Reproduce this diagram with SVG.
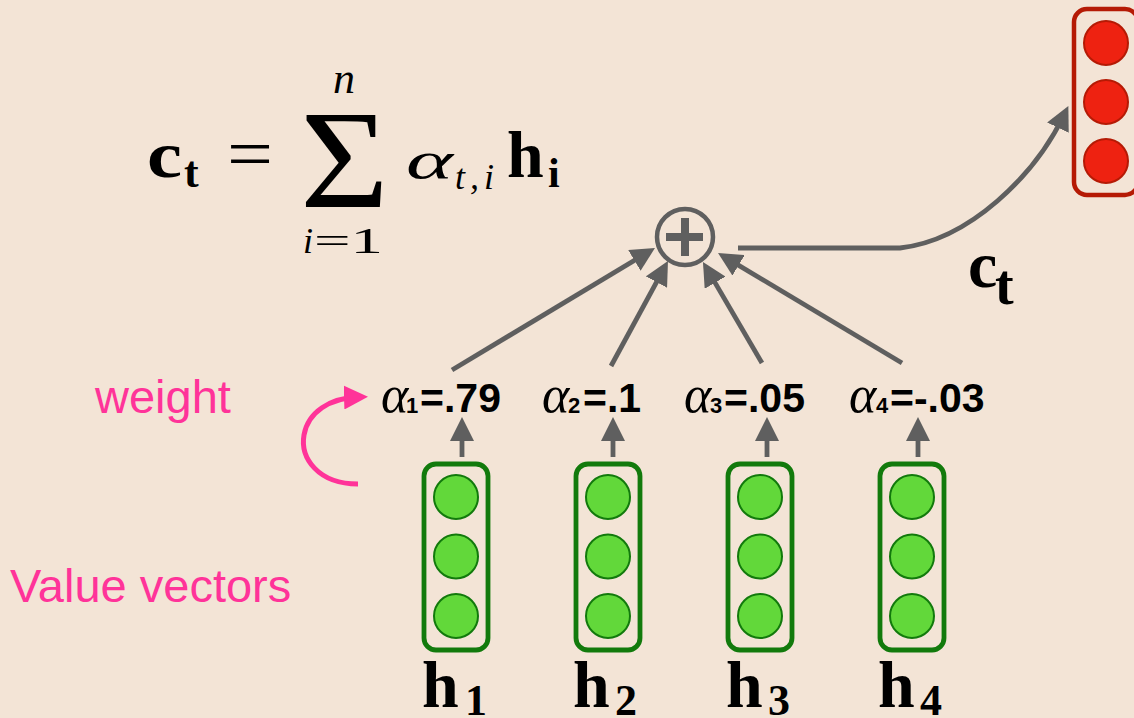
<svg xmlns="http://www.w3.org/2000/svg" width="1134" height="718" viewBox="0 0 1134 718">
<style>
.conn{fill:none;stroke:#5f5f5f;stroke-width:4.8;marker-end:url(#ah)}
.gbox{fill:none;stroke:#127a0c;stroke-width:4.8}
.gdot{fill:#62d83a;stroke:#127a0c;stroke-width:2}
.rbox{fill:none;stroke:#b51a05;stroke-width:4.5}
.rdot{fill:#ee2211;stroke:#b51a05;stroke-width:2}
.bs{font-family:"Liberation Serif","Times New Roman",serif;font-weight:bold;fill:#000}
.it{font-family:"Liberation Serif","Times New Roman",serif;font-style:italic;fill:#000}
.rm{font-family:"Liberation Serif","Times New Roman",serif;fill:#000}
.sb{font-family:"Liberation Sans",Arial,sans-serif;font-weight:bold;fill:#000}
.pink{font-family:"Liberation Sans",Arial,sans-serif;font-size:47px;fill:#ff3399}
</style>
<defs>
<marker id="ah" markerUnits="userSpaceOnUse" markerWidth="24" markerHeight="24" refX="14" refY="12" orient="auto">
<path d="M0,0 L24,12 L0,24 z" fill="#5f5f5f"/>
</marker>
<marker id="ahp" markerUnits="userSpaceOnUse" markerWidth="24" markerHeight="24" refX="14" refY="12" orient="auto">
<path d="M0,0 L24,12 L0,24 z" fill="#ff3399"/>
</marker>
</defs>
<rect x="0" y="0" width="1134" height="718" fill="#f3e4d6"/>

<g id="equation">
<text class="bs" x="147" y="177" font-size="66" textLength="35" lengthAdjust="spacingAndGlyphs">c</text>
<text class="bs" x="184" y="187" font-size="44">t</text>
<text class="rm" x="227" y="178" font-size="72" textLength="46" lengthAdjust="spacingAndGlyphs">=</text>
<text class="rm" x="300" y="207" font-size="140" textLength="89" lengthAdjust="spacingAndGlyphs">Σ</text>
<text class="it" x="333" y="93" font-size="44">n</text>
<text class="it" x="303" y="253" font-size="36">i</text>
<text class="rm" x="314" y="253" font-size="36" textLength="69" lengthAdjust="spacingAndGlyphs">=1</text>
<text class="it" x="406" y="178" font-size="52" textLength="47" lengthAdjust="spacingAndGlyphs">α</text>
<text class="it" x="455" y="189" font-size="36" letter-spacing="5">t,i</text>
<text class="bs" x="507" y="177" font-size="66">h</text>
<text class="bs" x="548" y="187" font-size="42">i</text>
</g>

<g id="sum">
<circle cx="685" cy="237" r="28" fill="#f3e4d6" stroke="#5f5f5f" stroke-width="4.5"/>
<rect x="666" y="233" width="37" height="8" fill="#5f5f5f"/>
<rect x="681" y="218" width="8" height="38" fill="#5f5f5f"/>
</g>

<g id="ct-vector">
<rect class="rbox" x="1074" y="9" width="64" height="186" rx="13"/>
<circle class="rdot" cx="1106" cy="43" r="22"/>
<circle class="rdot" cx="1106" cy="102" r="22"/>
<circle class="rdot" cx="1106" cy="161" r="22"/>
</g>
<g id="ct-label">
<text class="bs" x="968" y="287" font-size="66">c</text>
<text class="bs" x="995" y="304" font-size="56">t</text>
</g>

<g id="h1">
<rect class="gbox" x="424" y="464" width="64" height="186" rx="12"/>
<circle class="gdot" cx="456" cy="497" r="22"/>
<circle class="gdot" cx="456" cy="556.5" r="22"/>
<circle class="gdot" cx="456" cy="616" r="22"/>
<text class="bs" x="422" y="707" font-size="66">h</text>
<text class="bs" x="465" y="715" font-size="44">1</text>
</g>
<g id="h2">
<rect class="gbox" x="576" y="464" width="64" height="186" rx="12"/>
<circle class="gdot" cx="608" cy="497" r="22"/>
<circle class="gdot" cx="608" cy="556.5" r="22"/>
<circle class="gdot" cx="608" cy="616" r="22"/>
<text class="bs" x="573" y="707" font-size="66">h</text>
<text class="bs" x="615" y="715" font-size="44">2</text>
</g>
<g id="h3">
<rect class="gbox" x="728" y="464" width="64" height="186" rx="12"/>
<circle class="gdot" cx="760" cy="497" r="22"/>
<circle class="gdot" cx="760" cy="556.5" r="22"/>
<circle class="gdot" cx="760" cy="616" r="22"/>
<text class="bs" x="726" y="707" font-size="66">h</text>
<text class="bs" x="768" y="715" font-size="44">3</text>
</g>
<g id="h4">
<rect class="gbox" x="880" y="464" width="64" height="186" rx="12"/>
<circle class="gdot" cx="912" cy="497" r="22"/>
<circle class="gdot" cx="912" cy="556.5" r="22"/>
<circle class="gdot" cx="912" cy="616" r="22"/>
<text class="bs" x="878" y="707" font-size="66">h</text>
<text class="bs" x="920" y="715" font-size="44">4</text>
</g>

<g id="w1">
<text class="it" x="381" y="412" font-size="52">α</text>
<text class="sb" x="406" y="413" font-size="22">1</text>
<text class="sb" x="420" y="412" font-size="41">=.79</text>
</g>
<g id="w2">
<text class="it" x="542" y="412" font-size="52">α</text>
<text class="sb" x="568" y="413" font-size="22">2</text>
<text class="sb" x="583" y="412" font-size="41">=.1</text>
</g>
<g id="w3">
<text class="it" x="684" y="412" font-size="52">α</text>
<text class="sb" x="710" y="413" font-size="22">3</text>
<text class="sb" x="724" y="412" font-size="41">=.05</text>
</g>
<g id="w4">
<text class="it" x="849" y="412" font-size="52">α</text>
<text class="sb" x="876" y="413" font-size="22">4</text>
<text class="sb" x="890" y="412" font-size="41">=-.03</text>
</g>

<g id="annotations">
<text class="pink" x="95" y="413">weight</text>
<text class="pink" x="10" y="602">Value vectors</text>
<path d="M358,484 C318,484 300,458 304,435 C308,412 330,398 358,397" fill="none" stroke="#ff3399" stroke-width="5" marker-end="url(#ahp)"/>
</g>

<g id="connectors">
<line class="conn" x1="452" y1="370" x2="646.4" y2="253.2"/>
<line class="conn" x1="611" y1="366" x2="663.2" y2="269.8"/>
<line class="conn" x1="762" y1="363" x2="708" y2="270.6"/>
<line class="conn" x1="902" y1="363" x2="726.6" y2="258.1"/>
<line class="conn" x1="462" y1="457" x2="462" y2="427"/>
<line class="conn" x1="613" y1="457" x2="613" y2="427"/>
<line class="conn" x1="767" y1="457" x2="767" y2="427"/>
<line class="conn" x1="918" y1="457" x2="918" y2="427"/>
<path class="conn" d="M738,248 L900,248 C970,240 1035,175 1064,115"/>
</g>
</svg>
